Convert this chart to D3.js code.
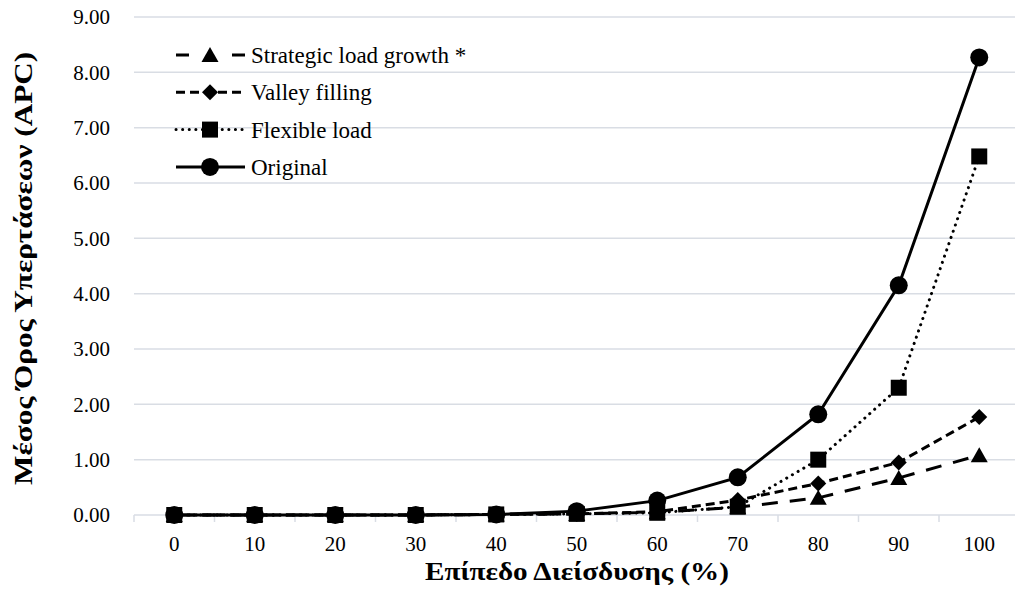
<!DOCTYPE html>
<html><head><meta charset="utf-8">
<script src="https://cdn.jsdelivr.net/npm/d3@7"></script>
<style>body{margin:0;background:#fff}svg{display:block}</style>
</head><body><svg id="c" width="1015" height="598"></svg>
<script>
const categories = ["0","10","20","30","40","50","60","70","80","90","100"];
const original  = [0,0,0,0,0.01,0.07,0.26,0.68,1.82,4.15,8.27];
const flexible  = [0,0,0,0,0.01,0.02,0.04,0.15,1.00,2.30,6.48];
const valley    = [0,0,0,0,0.01,0.02,0.06,0.27,0.57,0.95,1.77];
const strategic = [0,0,0,0,0.01,0.02,0.05,0.14,0.31,0.67,1.08];
const yTicks = [0,1,2,3,4,5,6,7,8,9];
const seriesNames = ["Strategic load growth *","Valley filling","Flexible load","Original"];

const series = [
  {name:seriesNames[3], values:original, dash:null, marker:"circle"},
  {name:seriesNames[2], values:flexible, dash:"0.1 6.5", marker:"square"},
  {name:seriesNames[1], values:valley, dash:"9 5", marker:"diamond"},
  {name:seriesNames[0], values:strategic, dash:"16 12", marker:"triangle"}
];

const FONT = '"Liberation Serif","Times New Roman",Tinos,"DejaVu Serif",serif';
const svg = d3.select("#c");
const m = {l:134, r:1019.5, t:17, b:515};
const x = d3.scaleBand().domain(categories).range([m.l, m.r]);
const y = d3.scaleLinear().domain([0,9]).range([m.b, m.t]);
const grid = "#d9dde4";

svg.append("g").selectAll("line").data(yTicks).join("line")
  .attr("x1", m.l).attr("x2", m.r)
  .attr("y1", d=>y(d)).attr("y2", d=>y(d))
  .attr("stroke", grid).attr("stroke-width", 1.5);

const yAxis = d3.axisLeft(y).tickValues(yTicks).tickFormat(d3.format(".2f")).tickSize(0).tickPadding(24);
const ya = svg.append("g").attr("transform",`translate(${m.l},0)`).call(yAxis);
ya.attr("font-family", null);
ya.select(".domain").remove();
ya.selectAll("text").attr("font-size", 21).attr("fill","#000").style("font-family", FONT);

const xAxis = d3.axisBottom(x).tickSize(0).tickPadding(21);
const xa = svg.append("g").attr("transform",`translate(0,${m.b})`).call(xAxis);
xa.attr("font-family", null);
xa.select(".domain").remove();
xa.selectAll("text").attr("font-size", 21).attr("fill","#000").style("font-family", FONT);
const bounds = categories.map(c=>x(c)).concat([m.r]);
svg.append("g").selectAll("line").data(bounds).join("line")
  .attr("x1", d=>d).attr("x2", d=>d).attr("y1", m.b).attr("y2", m.b+7)
  .attr("stroke", grid).attr("stroke-width", 1.5);

const cx = c => x(c) + x.bandwidth()/2;
const line = d3.line().x((d,i)=>cx(categories[i])).y(d=>y(d));

function drawMarker(g, type, px, py){
  if(type==="circle") g.append("circle").attr("cx",px).attr("cy",py).attr("r",9).attr("fill","#000");
  else if(type==="square") g.append("rect").attr("x",px-8).attr("y",py-8).attr("width",16).attr("height",16).attr("fill","#000");
  else if(type==="diamond") g.append("path").attr("d",`M${px},${py-8}L${px+8},${py}L${px},${py+8}L${px-8},${py}Z`).attr("fill","#000");
  else if(type==="triangle") g.append("path").attr("d",`M${px},${py-8}L${px+8.5},${py+7}L${px-8.5},${py+7}Z`).attr("fill","#000");
}

series.forEach(s=>{
  const g = svg.append("g");
  g.append("path").datum(s.values).attr("d", line).attr("fill","none")
    .attr("stroke","#000").attr("stroke-width",3)
    .attr("stroke-linecap", s.marker==="square" ? "round":"butt")
    .attr("stroke-dasharray", s.dash);
  s.values.forEach((v,i)=>drawMarker(g, s.marker, cx(categories[i]), y(v)));
});

const legendOrder = [series[3],series[2],series[1],series[0]];
const lg = svg.append("g");
legendOrder.forEach((s,i)=>{
  const ly = 55 + i*37.3;
  const g = lg.append("g");
  g.append("line").attr("x1",176).attr("x2",245).attr("y1",ly).attr("y2",ly)
    .attr("stroke","#000").attr("stroke-width",3)
    .attr("stroke-linecap", s.marker==="square" ? "round":"butt")
    .attr("stroke-dasharray", s.marker==="triangle" ? "13 43 13" : (s.marker==="diamond" ? "9 5" : s.dash));
  drawMarker(g, s.marker, 210, ly);
  g.append("text").attr("x",251).attr("y",ly+8).attr("font-size",23).style("font-family", FONT).text(s.name);
});

svg.append("text").attr("x",577).attr("y",580).attr("text-anchor","middle")
  .attr("font-size",25).attr("font-weight","bold").style("font-family", FONT)
  .attr("textLength",304).attr("lengthAdjust","spacingAndGlyphs").text("Επίπεδο Διείσδυσης (%)");
svg.append("text").attr("transform","translate(32,268.5) rotate(-90)").attr("text-anchor","middle")
  .attr("font-size",25).attr("font-weight","bold").style("font-family", FONT)
  .attr("textLength",433).attr("lengthAdjust","spacingAndGlyphs").text("Μέσος Όρος Υπερτάσεων (APC)");
</script></body></html>
